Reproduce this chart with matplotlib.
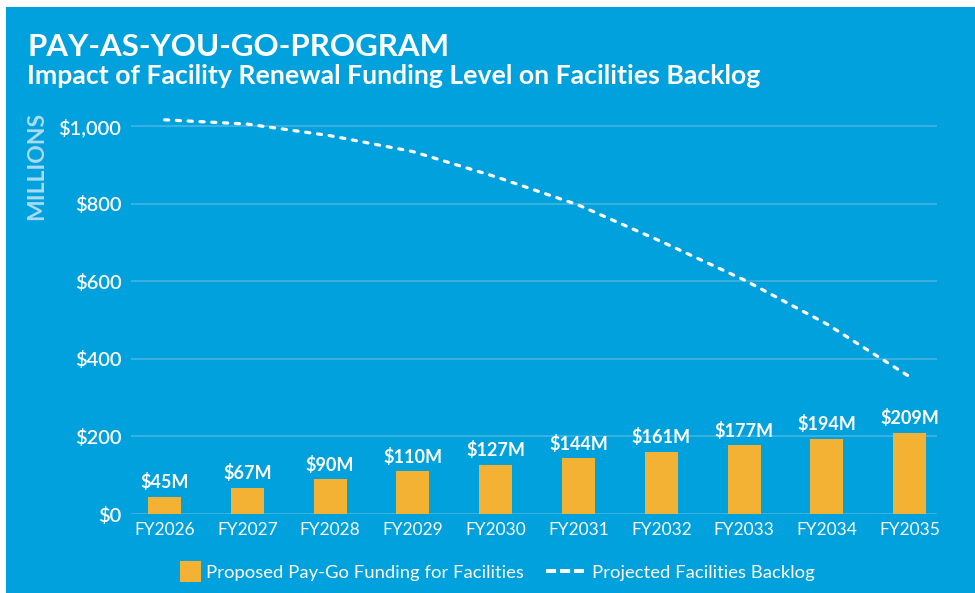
import matplotlib
matplotlib.use("Agg")
import matplotlib.pyplot as plt
from matplotlib.patches import Rectangle
from matplotlib.lines import Line2D
from matplotlib.legend_handler import HandlerPatch

plt.rcParams['font.family'] = ['Lato', 'DejaVu Sans']

# ---- data ----
years = ["FY2026", "FY2027", "FY2028", "FY2029", "FY2030",
         "FY2031", "FY2032", "FY2033", "FY2034", "FY2035"]
funding = [45, 67, 90, 110, 127, 144, 161, 177, 194, 209]
funding_labels = ["$45M", "$67M", "$90M", "$110M", "$127M",
                  "$144M", "$161M", "$177M", "$194M", "$209M"]
backlog = [1017, 1006, 976, 935, 870, 797, 703, 604, 490, 354]
yticks = [0, 200, 400, 600, 800, 1000]
ytick_labels = ["$0", "$200", "$400", "$600", "$800", "$1,000"]

title = "PAY-AS-YOU-GO-PROGRAM"
subtitle = "Impact of Facility Renewal Funding Level on Facilities Backlog"
ylabel = "MILLIONS"
bar_name = "Proposed Pay-Go Funding for Facilities"
line_name = "Projected Facilities Backlog"

# ---- style ----
BLUE = "#00A1DC"
GRID = "#3FB3E2"
ORANGE = "#F3B234"
WHITE = "#FFFFFF"
LIGHT = "#A9DCF2"

W, H = 975, 593
fig = plt.figure(figsize=(W / 100, H / 100), dpi=100, facecolor="white")

# blue panel
fig.patches.append(Rectangle((6 / W, 0), 1 - 6 / W, 1 - 7 / H,
                             transform=fig.transFigure, facecolor=BLUE,
                             edgecolor="none", zorder=-10))

ax_left, ax_right = 131 / W, 937 / W
ax_bottom, ax_top = 1 - 514 / H, 1 - 107 / H
ax = fig.add_axes([ax_left, ax_bottom, ax_right - ax_left, ax_top - ax_bottom])
ax.set_zorder(2)
ax.set_facecolor("none")

x = list(range(len(years)))
ax.bar(x, funding, width=0.4, color=ORANGE, zorder=3)
for xi, v, lab in zip(x, funding, funding_labels):
    ax.annotate(lab, (xi, v), xytext=(0, 4), textcoords="offset points",
                ha="center", va="bottom", color=WHITE, fontsize=13,
                fontweight="bold")

ax.plot(x, backlog, color=WHITE, lw=2.3, linestyle=(0, (1.3, 2.4)),
        dash_capstyle="round", zorder=4)

ax.set_xlim(-0.405, 9.33)
ax.set_ylim(0, 1050)
ax.set_yticks(yticks)
ax.set_yticklabels(ytick_labels)
ax.set_xticks(x)
ax.set_xticklabels(years)
ax.grid(axis="y", color=GRID, lw=1.3, zorder=0)
ax.set_axisbelow(True)
for s in ax.spines.values():
    s.set_visible(False)
ax.tick_params(axis="y", length=0, pad=7, labelsize=14.5, labelcolor=WHITE)
ax.tick_params(axis="x", length=0, pad=6, labelsize=12.5, labelcolor=WHITE)
for t in ax.get_yticklabels():
    t.set_fontweight("semibold")

# texts
fig.text(27 / W, 1 - 56 / H, title, color=WHITE, fontsize=22.5,
         fontweight="bold", ha="left", va="baseline")
fig.text(27 / W, 1 - 84 / H, subtitle, color=WHITE, fontsize=19.2,
         fontweight="bold", ha="left", va="baseline")
fig.text(37 / W, 1 - 166 / H, ylabel, color=LIGHT, fontsize=16.5,
         fontweight="bold", rotation=90, ha="center", va="center")


# legend
def square(legend, orig_handle, xdescent, ydescent, width, height, fontsize):
    s = height * 1.25
    return Rectangle((width - s - xdescent + 2, -ydescent + (height - s) / 2), s, s)


handles = [Rectangle((0, 0), 1, 1, facecolor=ORANGE, edgecolor="none"),
           Line2D([0], [0], color=WHITE, lw=2.8, linestyle=(0, (2.6, 1.0)))]
leg = fig.legend(handles, [bar_name, line_name], loc="center",
                 bbox_to_anchor=(487 / W, 1 - 572 / H), ncol=2, frameon=False,
                 fontsize=13.3, labelcolor=WHITE, handlelength=2.1,
                 handleheight=1.0, handletextpad=0.4, columnspacing=1.2,
                 handler_map={Rectangle: HandlerPatch(patch_func=square)})

fig.savefig("out.png", dpi=100, facecolor="white")
